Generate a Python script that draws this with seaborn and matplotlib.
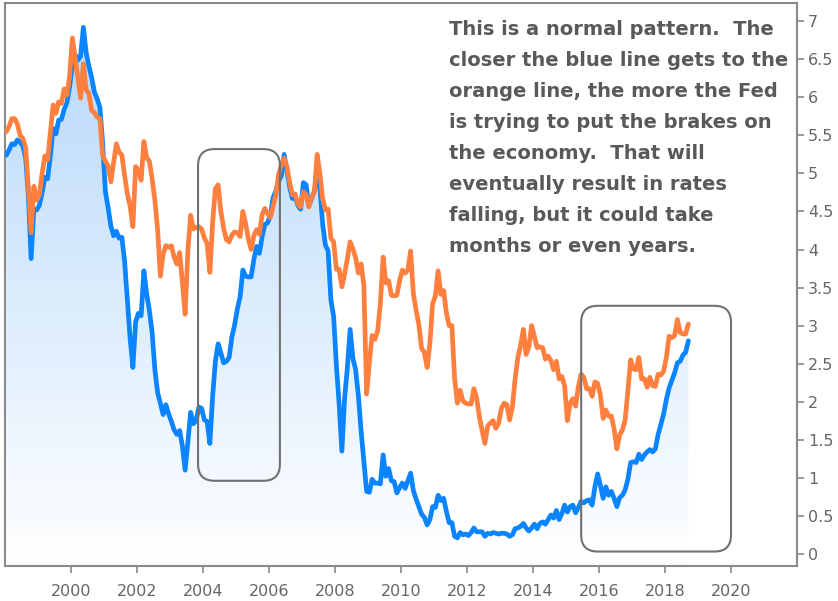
import numpy as np
import pandas as pd
import seaborn as sns
import matplotlib
matplotlib.use("Agg")
import matplotlib.pyplot as plt
from matplotlib.patches import FancyBboxPatch
from matplotlib.colors import LinearSegmentedColormap

# ---------------- data (monthly, Jan 1998 .. Sep 2018) ----------------
start_year = 1998
ten_year = [
    5.55, 5.62, 5.72, 5.72, 5.65, 5.50, 5.46, 5.34, 4.81, 4.22, 4.83, 4.65,  # 1998
    4.72, 5.00, 5.23, 5.18, 5.54, 5.90, 5.79, 5.94, 5.92, 6.11, 6.03, 6.28,  # 1999
    6.78, 6.52, 6.26, 5.99, 6.44, 6.10, 6.05, 5.83, 5.80, 5.74, 5.72, 5.24,  # 2000
    5.16, 5.10, 4.89, 5.14, 5.39, 5.28, 5.24, 4.97, 4.73, 4.57, 4.30, 5.09,  # 2001
    5.04, 4.91, 5.42, 5.21, 5.16, 4.93, 4.65, 4.26, 3.65, 3.94, 4.05, 4.03,  # 2002
    4.05, 3.90, 3.81, 3.96, 3.57, 3.15, 3.98, 4.45, 4.27, 4.29, 4.30, 4.27,  # 2003
    4.15, 4.08, 3.70, 4.35, 4.80, 4.85, 4.50, 4.28, 4.13, 4.10, 4.19, 4.23,  # 2004
    4.22, 4.17, 4.50, 4.34, 4.14, 4.00, 4.18, 4.26, 4.20, 4.46, 4.54, 4.47,  # 2005
    4.42, 4.57, 4.72, 4.99, 5.11, 5.20, 5.09, 4.88, 4.72, 4.73, 4.60, 4.56,  # 2006
    4.76, 4.72, 4.56, 4.69, 4.75, 5.25, 5.00, 4.67, 4.52, 4.53, 4.15, 4.10,  # 2007
    3.74, 3.74, 3.51, 3.68, 3.88, 4.10, 4.01, 3.89, 3.69, 3.81, 3.53, 2.10,  # 2008
    2.52, 2.87, 2.82, 2.93, 3.29, 3.90, 3.56, 3.59, 3.40, 3.39, 3.40, 3.59,  # 2009
    3.73, 3.69, 3.73, 3.98, 3.42, 3.20, 3.01, 2.70, 2.65, 2.45, 2.76, 3.29,  # 2010
    3.39, 3.72, 3.41, 3.46, 3.17, 3.00, 3.00, 2.30, 1.98, 2.15, 2.01, 1.98,  # 2011
    1.97, 1.97, 2.17, 2.05, 1.80, 1.62, 1.45, 1.68, 1.72, 1.75, 1.65, 1.72,  # 2012
    1.91, 1.98, 1.96, 1.76, 1.93, 2.30, 2.58, 2.74, 2.95, 2.62, 2.72, 3.00,  # 2013
    2.86, 2.71, 2.72, 2.71, 2.56, 2.60, 2.54, 2.42, 2.53, 2.30, 2.33, 2.21,  # 2014
    1.75, 1.98, 2.04, 1.94, 2.20, 2.36, 2.32, 2.17, 2.17, 2.07, 2.26, 2.24,  # 2015
    2.09, 1.78, 1.89, 1.81, 1.81, 1.64, 1.38, 1.56, 1.63, 1.76, 2.14, 2.55,  # 2016
    2.43, 2.42, 2.58, 2.30, 2.30, 2.19, 2.32, 2.21, 2.20, 2.36, 2.35, 2.40,  # 2017
    2.58, 2.86, 2.84, 2.87, 3.08, 2.91, 2.89, 2.89, 3.02,                    # 2018
]
two_year = [
    5.24, 5.31, 5.39, 5.38, 5.44, 5.41, 5.36, 5.21, 4.71, 3.88, 4.53, 4.52,  # 1998
    4.58, 4.75, 4.95, 4.93, 5.23, 5.59, 5.52, 5.70, 5.71, 5.84, 5.93, 6.14,  # 1999
    6.42, 6.56, 6.49, 6.54, 6.92, 6.59, 6.41, 6.26, 6.07, 5.98, 5.87, 5.40,  # 2000
    4.76, 4.55, 4.31, 4.18, 4.24, 4.15, 4.16, 3.84, 3.34, 2.83, 2.45, 3.05,  # 2001
    3.16, 3.13, 3.72, 3.42, 3.20, 2.91, 2.42, 2.12, 1.98, 1.83, 1.96, 1.84,  # 2002
    1.74, 1.63, 1.57, 1.62, 1.42, 1.10, 1.47, 1.86, 1.71, 1.75, 1.93, 1.91,  # 2003
    1.76, 1.74, 1.45, 2.07, 2.53, 2.76, 2.64, 2.51, 2.53, 2.58, 2.85, 3.01,  # 2004
    3.22, 3.38, 3.73, 3.65, 3.64, 3.64, 3.87, 4.04, 3.95, 4.17, 4.33, 4.35,  # 2005
    4.45, 4.68, 4.77, 4.90, 4.97, 5.25, 5.04, 4.82, 4.67, 4.69, 4.58, 4.53,  # 2006
    4.88, 4.85, 4.57, 4.67, 4.77, 4.96, 4.82, 4.34, 4.06, 3.98, 3.34, 3.12,  # 2007
    2.48, 1.97, 1.35, 2.05, 2.45, 2.95, 2.57, 2.42, 2.08, 1.61, 1.21, 0.82,  # 2008
    0.81, 0.98, 0.93, 0.93, 0.92, 1.30, 1.02, 1.12, 0.96, 0.95, 0.80, 0.87,  # 2009
    0.93, 0.86, 0.96, 1.06, 0.83, 0.72, 0.62, 0.52, 0.48, 0.38, 0.45, 0.62,  # 2010
    0.61, 0.77, 0.70, 0.73, 0.56, 0.41, 0.41, 0.23, 0.21, 0.28, 0.25, 0.26,  # 2011
    0.24, 0.28, 0.34, 0.29, 0.29, 0.29, 0.23, 0.27, 0.26, 0.28, 0.27, 0.26,  # 2012
    0.27, 0.27, 0.26, 0.23, 0.25, 0.33, 0.34, 0.36, 0.40, 0.34, 0.30, 0.34,  # 2013
    0.39, 0.33, 0.40, 0.42, 0.39, 0.45, 0.51, 0.47, 0.57, 0.45, 0.53, 0.64,  # 2014
    0.55, 0.62, 0.64, 0.54, 0.61, 0.69, 0.67, 0.70, 0.71, 0.64, 0.88, 1.05,  # 2015
    0.90, 0.73, 0.88, 0.77, 0.82, 0.73, 0.62, 0.74, 0.77, 0.84, 0.98, 1.20,  # 2016
    1.21, 1.20, 1.31, 1.24, 1.30, 1.34, 1.37, 1.34, 1.38, 1.57, 1.70, 1.84,  # 2017
    2.03, 2.18, 2.28, 2.38, 2.51, 2.53, 2.61, 2.65, 2.80,                    # 2018
]
x_ticks = list(range(2000, 2021, 2))
y_ticks = [0, 0.5, 1, 1.5, 2, 2.5, 3, 3.5, 4, 4.5, 5, 5.5, 6, 6.5, 7]
y_tick_labels = ["0", "0.5", "1", "1.5", "2", "2.5", "3", "3.5", "4",
                 "4.5", "5", "5.5", "6", "6.5", "7"]
# highlight boxes: (x0, x1, y0, y1) in data units
box_2004 = (2003.85, 2006.33, 0.96, 5.32)
box_2016 = (2015.46, 2020.0, 0.03, 3.26)
note = ("This is a normal pattern.  The\n"
        "closer the blue line gets to the\n"
        "orange line, the more the Fed\n"
        "is trying to put the brakes on\n"
        "the economy.  That will\n"
        "eventually result in rates\n"
        "falling, but it could take\n"
        "months or even years.")

n = len(ten_year)
t = start_year + (np.arange(n) + 0.5) / 12.0
df = pd.DataFrame({"t": t, "ten": ten_year, "two": two_year})

# ---------------- figure ----------------
sns.set_theme(style="white")
plt.rcParams["font.family"] = ["DejaVu Sans"]

fig = plt.figure(figsize=(8.38, 6.01), dpi=100)
ax = fig.add_axes([5 / 838, 35 / 601, 792 / 838, 563 / 601])

XMIN, XMAX = 1998.0, 2022.0
YMIN, YMAX = -0.16, 7.24
ax.set_xlim(XMIN, XMAX)
ax.set_ylim(YMIN, YMAX)

BLUE = "#0A84FF"
ORANGE = "#FF7F3F"

# gradient fill under blue line
poly = ax.fill_between(df["t"], YMIN, df["two"], facecolor="none", edgecolor="none")
cmap = LinearSegmentedColormap.from_list("g", ["#FFFFFF", "#B4D7FA"])
grad = np.linspace(0, 1, 256).reshape(-1, 1)
im = ax.imshow(grad, cmap=cmap, origin="lower", aspect="auto",
               extent=[XMIN, XMAX, YMIN, YMAX], zorder=1, vmin=0, vmax=1)
im.set_clip_path(poly.get_paths()[0], transform=ax.transData)

sns.lineplot(data=df, x="t", y="two", color=BLUE, lw=3.4, ax=ax, zorder=3)
sns.lineplot(data=df, x="t", y="ten", color=ORANGE, lw=3.4, ax=ax, zorder=4)

# rounded highlight boxes
px_per_x = 792 / (XMAX - XMIN)
px_per_y = 563 / (YMAX - YMIN)
for (x0, x1, y0, y1) in (box_2004, box_2016):
    p = FancyBboxPatch((x0, y0), x1 - x0, y1 - y0,
                       boxstyle="round,pad=0,rounding_size=0.5",
                       mutation_aspect=px_per_x / px_per_y,
                       fc="none", ec="#707070", lw=1.5, zorder=5)
    ax.add_patch(p)

ax.text(0.561, 0.970, note, transform=ax.transAxes, ha="left", va="top",
        fontsize=14, fontweight="bold", color="#595959", linespacing=1.80,
        zorder=6)

# axes styling
ax.set_xlabel("")
ax.set_ylabel("")
for s in ax.spines.values():
    s.set_color("#8a8a8a")
    s.set_linewidth(1.5)
ax.yaxis.tick_right()
ax.set_xticks(x_ticks)
ax.set_xticklabels([str(v) for v in x_ticks])
ax.set_yticks(y_ticks)
ax.set_yticklabels(y_tick_labels)
ax.tick_params(axis="both", which="major", direction="out", length=5,
               width=1.2, color="#8a8a8a", labelcolor="#666666", labelsize=11.5)
ax.tick_params(axis="x", pad=8, bottom=True, top=False)
ax.tick_params(axis="y", pad=3, right=True, left=False)
ax.grid(False)

fig.savefig("out.png", dpi=100)
